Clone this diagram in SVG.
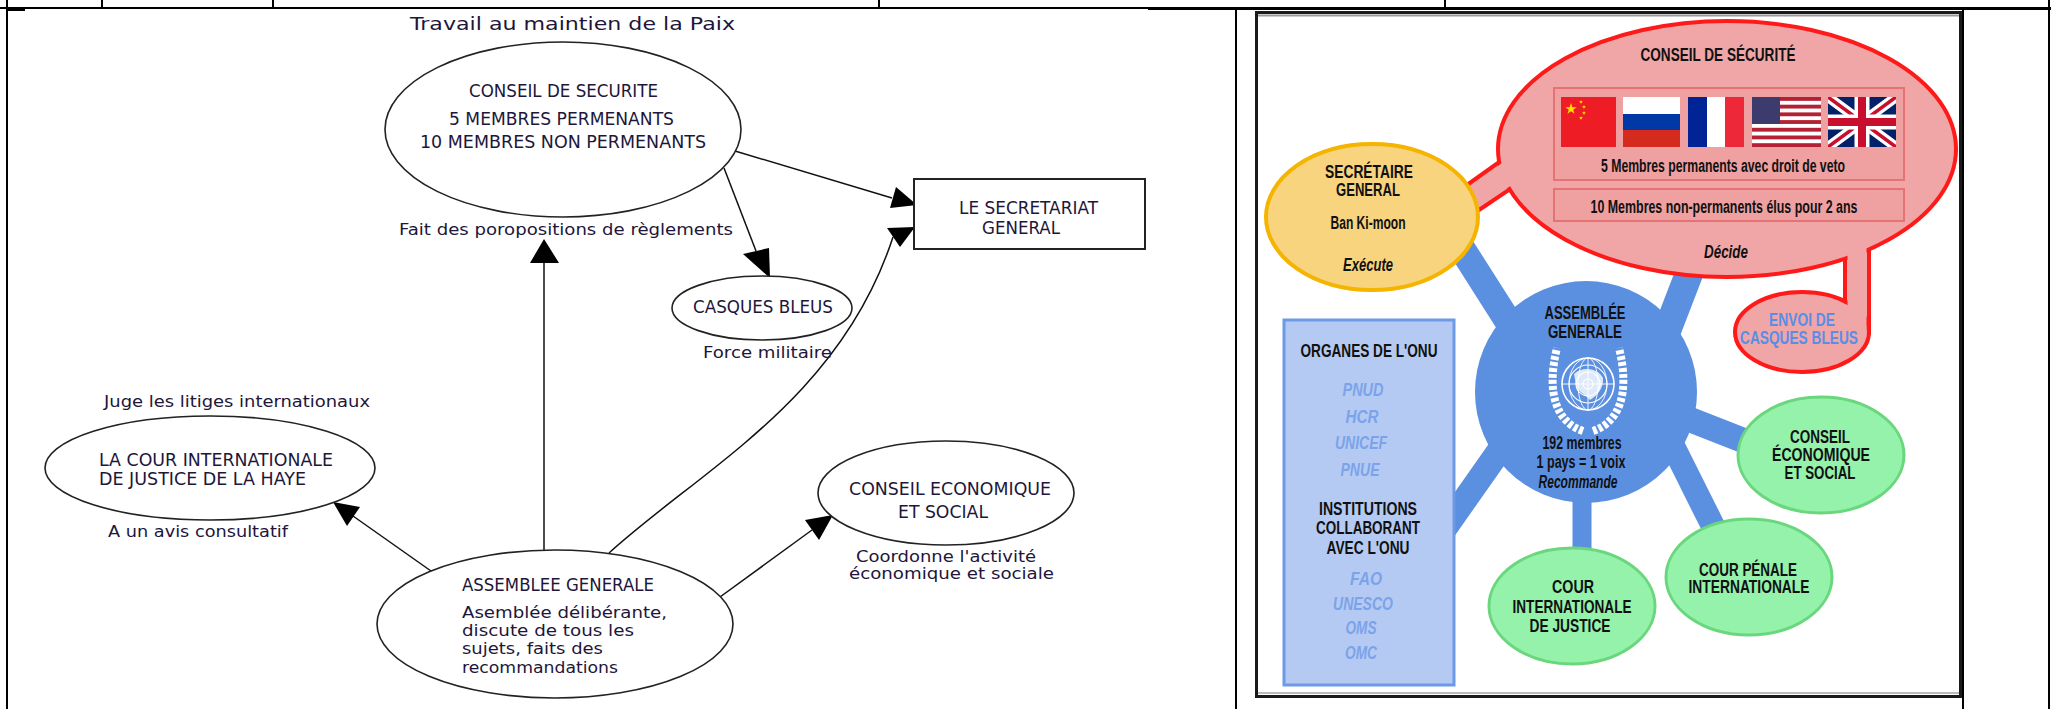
<svg xmlns="http://www.w3.org/2000/svg" xmlns:xlink="http://www.w3.org/1999/xlink" width="2051" height="709" viewBox="0 0 2051 709">
<style>
.tbl{stroke:#000;stroke-width:2;fill:none}
.lt{font-family:"DejaVu Sans","Liberation Sans",sans-serif;fill:#21163a;font-size:17px}
.ls{font-size:16px}
.nd{fill:#fff;stroke:#222;stroke-width:1.6}
.edge{stroke:#111;stroke-width:1.5;fill:none}
.ah{fill:#000}
.rt{font-family:"Liberation Sans Narrow","Liberation Sans",sans-serif;font-weight:bold;font-size:18px;fill:#111;text-anchor:middle}
.it{font-style:italic}
.lb{fill:#7ba3ea;font-style:italic}
.bl{fill:#5a8ee6}
.spoke{stroke:#5b8fe0;fill:none}
.red{fill:#f0a6a6;stroke:#ff1a1a;stroke-width:4}
.redc{fill:#f0a6a6}
.green{fill:#95f2aa;stroke:#6ad77e;stroke-width:3}
</style>
<defs>
<path id="star" d="M0,-6 L1.35,-1.86 L5.71,-1.85 L2.19,0.71 L3.53,4.85 L0,2.3 L-3.53,4.85 L-2.19,0.71 L-5.71,-1.85 L-1.35,-1.86Z" fill="#ffde00"/>
<clipPath id="ukc"><rect x="1828" y="97" width="68" height="50"/></clipPath>
</defs>
<rect width="2051" height="709" fill="#fff"/>

<!-- table lines -->
<g id="table">
<line class="tbl" x1="0" y1="8" x2="2051" y2="8"/>
<line class="tbl" x1="1148" y1="9" x2="2051" y2="9" stroke-width="3"/>
<line class="tbl" x1="102" y1="0" x2="102" y2="8"/>
<line class="tbl" x1="273" y1="0" x2="273" y2="8"/>
<line class="tbl" x1="879" y1="0" x2="879" y2="8"/>
<line class="tbl" x1="1445" y1="0" x2="1445" y2="8"/>
<line class="tbl" x1="7" y1="0" x2="7" y2="709"/>
<line class="tbl" x1="8" y1="10" x2="25" y2="10" stroke-width="3"/>
<line class="tbl" x1="1236" y1="8" x2="1236" y2="709"/>
<line class="tbl" x1="1963" y1="8" x2="1963" y2="709"/>
<line class="tbl" x1="2049" y1="0" x2="2049" y2="709"/>
</g>

<!-- LEFT DIAGRAM -->
<text class="lt" x="410" y="30" font-size="20" textLength="325" lengthAdjust="spacingAndGlyphs">Travail au maintien de la Paix</text>

<g id="connectors">
<path class="edge" d="M735,151 L892,198"/>
<polygon class="ah" points="917,205 896,187 890,208"/>
<path class="edge" d="M724,168 L756,251"/>
<polygon class="ah" points="770,278 743,254 769,248"/>
<path class="edge" d="M544,550 L544,263"/>
<polygon class="ah" points="544,239 530,263 559,263"/>
<path class="edge" d="M609,553 C700,470 840,400 893,237"/>
<polygon class="ah" points="915,227 887,228 900,247"/>
<path class="edge" d="M431,571 L353,516"/>
<polygon class="ah" points="333,502 360,507 347,526"/>
<path class="edge" d="M720,597 L812,530"/>
<polygon class="ah" points="833,515 819,540 805,520"/>
</g>

<g id="conseil-securite">
<ellipse class="nd" cx="563" cy="129.5" rx="178" ry="87.5"/>
<text class="lt" x="469" y="97" textLength="189" lengthAdjust="spacingAndGlyphs">CONSEIL DE SECURITE</text>
<text class="lt" x="449" y="125" textLength="225" lengthAdjust="spacingAndGlyphs">5 MEMBRES PERMENANTS</text>
<text class="lt" x="420" y="148" textLength="286" lengthAdjust="spacingAndGlyphs">10 MEMBRES NON PERMENANTS</text>
<text class="lt ls" x="399" y="235" textLength="334" lengthAdjust="spacingAndGlyphs">Fait des poropositions de règlements</text>
</g>

<g id="secretariat">
<rect x="914" y="179" width="231" height="70" fill="#fff" stroke="#222" stroke-width="2"/>
<text class="lt" x="959" y="214" textLength="139" lengthAdjust="spacingAndGlyphs">LE SECRETARIAT</text>
<text class="lt" x="982" y="234" textLength="78" lengthAdjust="spacingAndGlyphs">GENERAL</text>
</g>

<g id="casques-bleus">
<ellipse class="nd" cx="762" cy="308" rx="90" ry="32"/>
<text class="lt" x="693" y="313" textLength="140" lengthAdjust="spacingAndGlyphs">CASQUES BLEUS</text>
<text class="lt ls" x="703" y="358" textLength="129" lengthAdjust="spacingAndGlyphs">Force militaire</text>
</g>

<g id="cour-internationale">
<ellipse class="nd" cx="210" cy="468" rx="165" ry="52"/>
<text class="lt ls" x="104" y="407" textLength="266" lengthAdjust="spacingAndGlyphs">Juge les litiges internationaux</text>
<text class="lt" x="99" y="466" textLength="234" lengthAdjust="spacingAndGlyphs">LA COUR INTERNATIONALE</text>
<text class="lt" x="99" y="485" textLength="207" lengthAdjust="spacingAndGlyphs">DE JUSTICE DE LA HAYE</text>
<text class="lt ls" x="108" y="537" textLength="180" lengthAdjust="spacingAndGlyphs">A un avis consultatif</text>
</g>

<g id="assemblee-generale">
<ellipse class="nd" cx="555" cy="624" rx="178" ry="74"/>
<text class="lt" x="462" y="591" textLength="192" lengthAdjust="spacingAndGlyphs">ASSEMBLEE GENERALE</text>
<text class="lt ls" x="462" y="618" textLength="205" lengthAdjust="spacingAndGlyphs">Asemblée délibérante,</text>
<text class="lt ls" x="462" y="636" textLength="172" lengthAdjust="spacingAndGlyphs">discute de tous les</text>
<text class="lt ls" x="462" y="654" textLength="141" lengthAdjust="spacingAndGlyphs">sujets, faits des</text>
<text class="lt ls" x="462" y="673" textLength="156" lengthAdjust="spacingAndGlyphs">recommandations</text>
</g>

<g id="conseil-economique">
<ellipse class="nd" cx="946" cy="493" rx="128" ry="52"/>
<text class="lt" x="849" y="495" textLength="202" lengthAdjust="spacingAndGlyphs">CONSEIL ECONOMIQUE</text>
<text class="lt" x="898" y="518" textLength="90" lengthAdjust="spacingAndGlyphs">ET SOCIAL</text>
<text class="lt ls" x="856" y="562" textLength="180" lengthAdjust="spacingAndGlyphs">Coordonne l'activité</text>
<text class="lt ls" x="849" y="579" textLength="205" lengthAdjust="spacingAndGlyphs">économique et sociale</text>
</g>

<!-- RIGHT PICTURE -->
<g id="frame">
<rect x="1256.5" y="12.5" width="704" height="684" fill="#fff" stroke="#1a1a1a" stroke-width="3"/>
<line x1="1258" y1="15.5" x2="1959" y2="15.5" stroke="#999" stroke-width="2"/>
<line x1="1258" y1="693" x2="1959" y2="693" stroke="#bbb" stroke-width="2"/>
</g>

<g id="spokes">
<line class="spoke" x1="1450" y1="230" x2="1553" y2="392" stroke-width="27"/>
<line class="spoke" x1="1702" y1="240" x2="1655" y2="362" stroke-width="28"/>
<line class="spoke" x1="1440" y1="535" x2="1530" y2="407" stroke-width="25"/>
<line class="spoke" x1="1582" y1="470" x2="1582" y2="565" stroke-width="19"/>
<line class="spoke" x1="1660" y1="420" x2="1730" y2="560" stroke-width="24"/>
<line class="spoke" x1="1640" y1="400" x2="1760" y2="447" stroke-width="25"/>
</g>

<g id="assemblee-onu">
<circle cx="1586" cy="392" r="111" fill="#5b8fe0"/>
<g id="un-emblem" fill="none" stroke="#fff">
<circle cx="1588" cy="384" r="26" stroke-width="1.6"/>
<circle cx="1588" cy="384" r="19" stroke-width="1.1"/>
<circle cx="1588" cy="384" r="12" stroke-width="1.1"/>
<circle cx="1588" cy="384" r="5" stroke-width="1.1"/>
<ellipse cx="1588" cy="384" rx="10" ry="26" stroke-width="0.9"/>
<ellipse cx="1588" cy="384" rx="19" ry="26" stroke-width="0.9"/>
<path d="M1588,358 V410 M1562,384 H1614" stroke-width="0.9"/>
<path d="M1574,374 C1582,366 1598,368 1603,378 C1604,388 1597,396 1590,400 C1585,394 1578,392 1576,385 Z" fill="#fff" stroke="none" opacity="0.8"/>
<path d="M1583,431 C1556,422 1546,392 1557,348" stroke-width="8" stroke-dasharray="4 2"/>
<path d="M1593,431 C1620,422 1630,392 1619,348" stroke-width="8" stroke-dasharray="4 2"/>
</g>
<text class="rt" x="1585" y="319" textLength="81" lengthAdjust="spacingAndGlyphs">ASSEMBLÉE</text>
<text class="rt" x="1585" y="338" textLength="74" lengthAdjust="spacingAndGlyphs">GENERALE</text>
<text class="rt" x="1582" y="449" font-size="17" textLength="79" lengthAdjust="spacingAndGlyphs">192 membres</text>
<text class="rt" x="1581" y="468" font-size="17" textLength="89" lengthAdjust="spacingAndGlyphs">1 pays = 1 voix</text>
<text class="rt it" x="1578" y="488" font-size="17" textLength="79" lengthAdjust="spacingAndGlyphs">Recommande</text>
</g>

<g id="conseil-de-securite">
<polygon class="red" points="1460,190 1516,150 1528,177 1473,214"/>
<polygon class="red" points="1845,240 1869,240 1869,332 1845,320"/>
<ellipse class="red" cx="1727" cy="149" rx="229" ry="128"/>
<ellipse class="red" cx="1802" cy="332" rx="67" ry="40"/>
<polygon class="redc" points="1461.5,192 1517.5,152 1526.6,175.2 1471.6,211.9"/>
<polygon class="redc" points="1847.5,236 1866.5,236 1866.5,328 1847.5,318"/>
<rect x="1554" y="88" width="350" height="92" fill="#efa0a0" stroke="#e57373" stroke-width="2"/>
<rect x="1554" y="189" width="350" height="32" fill="#efa0a0" stroke="#e57373" stroke-width="2"/>
<g id="flags">
<rect x="1561" y="97" width="55" height="50" fill="#ee1c25"/>
<use xlink:href="#star" href="#star" transform="translate(1571,109)"/>
<use xlink:href="#star" href="#star" transform="translate(1581,102) scale(0.35)"/>
<use xlink:href="#star" href="#star" transform="translate(1584,107) scale(0.35)"/>
<use xlink:href="#star" href="#star" transform="translate(1584,113) scale(0.35)"/>
<use xlink:href="#star" href="#star" transform="translate(1581,118) scale(0.35)"/>
<rect x="1623" y="97" width="57" height="17" fill="#fff"/>
<rect x="1623" y="114" width="57" height="16" fill="#0039a6"/>
<rect x="1623" y="130" width="57" height="17" fill="#d52b1e"/>
<rect x="1688" y="97" width="19" height="50" fill="#002395"/>
<rect x="1707" y="97" width="18" height="50" fill="#fff"/>
<rect x="1725" y="97" width="19" height="50" fill="#ed2939"/>
<rect x="1752" y="97" width="69" height="50" fill="#b22234"/>
<g fill="#fff">
<rect x="1752" y="100.85" width="69" height="3.85"/>
<rect x="1752" y="108.55" width="69" height="3.85"/>
<rect x="1752" y="116.25" width="69" height="3.85"/>
<rect x="1752" y="123.95" width="69" height="3.85"/>
<rect x="1752" y="131.65" width="69" height="3.85"/>
<rect x="1752" y="139.35" width="69" height="3.85"/>
</g>
<rect x="1752" y="97" width="28" height="27" fill="#3c3b6e"/>
<g clip-path="url(#ukc)">
<rect x="1828" y="97" width="68" height="50" fill="#012169"/>
<path d="M1828,97 L1896,147 M1896,97 L1828,147" stroke="#fff" stroke-width="10"/>
<path d="M1828,97 L1896,147 M1896,97 L1828,147" stroke="#c8102e" stroke-width="3.5"/>
<path d="M1862,97 V147 M1828,122 H1896" stroke="#fff" stroke-width="15"/>
<path d="M1862,97 V147 M1828,122 H1896" stroke="#c8102e" stroke-width="8"/>
</g>
</g>
<text class="rt" x="1718" y="61" textLength="155" lengthAdjust="spacingAndGlyphs">CONSEIL DE SÉCURITÉ</text>
<text class="rt" x="1723" y="172" font-size="17" textLength="244" lengthAdjust="spacingAndGlyphs">5 Membres permanents avec droit de veto</text>
<text class="rt" x="1724" y="213" font-size="17" textLength="267" lengthAdjust="spacingAndGlyphs">10 Membres non-permanents élus pour 2 ans</text>
<text class="rt it" x="1726" y="258" textLength="44" lengthAdjust="spacingAndGlyphs">Décide</text>
<text class="rt bl" x="1802" y="326" textLength="66" lengthAdjust="spacingAndGlyphs">ENVOI DE</text>
<text class="rt bl" x="1799" y="344" textLength="118" lengthAdjust="spacingAndGlyphs">CASQUES BLEUS</text>
</g>

<g id="secretaire-general">
<ellipse cx="1372" cy="217" rx="106" ry="73" fill="#f8d47e" stroke="#f5b400" stroke-width="4"/>
<text class="rt" x="1369" y="178" textLength="88" lengthAdjust="spacingAndGlyphs">SECRÉTAIRE</text>
<text class="rt" x="1368" y="196" textLength="64" lengthAdjust="spacingAndGlyphs">GENERAL</text>
<text class="rt" x="1368" y="229" textLength="75" lengthAdjust="spacingAndGlyphs">Ban Ki-moon</text>
<text class="rt it" x="1368" y="271" textLength="50" lengthAdjust="spacingAndGlyphs">Exécute</text>
</g>

<g id="organes-onu">
<rect x="1284" y="320" width="170" height="365" fill="#b5caf2" stroke="#6d9ae6" stroke-width="3"/>
<text class="rt" x="1369" y="357" textLength="137" lengthAdjust="spacingAndGlyphs">ORGANES DE L'ONU</text>
<text class="rt lb" x="1363" y="396" textLength="41" lengthAdjust="spacingAndGlyphs">PNUD</text>
<text class="rt lb" x="1362" y="423" textLength="33" lengthAdjust="spacingAndGlyphs">HCR</text>
<text class="rt lb" x="1361" y="449" textLength="52" lengthAdjust="spacingAndGlyphs">UNICEF</text>
<text class="rt lb" x="1360" y="476" textLength="39" lengthAdjust="spacingAndGlyphs">PNUE</text>
<text class="rt" x="1368" y="515" textLength="98" lengthAdjust="spacingAndGlyphs">INSTITUTIONS</text>
<text class="rt" x="1368" y="534" textLength="104" lengthAdjust="spacingAndGlyphs">COLLABORANT</text>
<text class="rt" x="1368" y="554" textLength="83" lengthAdjust="spacingAndGlyphs">AVEC L'ONU</text>
<text class="rt lb" x="1366" y="585" textLength="32" lengthAdjust="spacingAndGlyphs">FAO</text>
<text class="rt lb" x="1363" y="610" textLength="60" lengthAdjust="spacingAndGlyphs">UNESCO</text>
<text class="rt lb" x="1361" y="634" textLength="31" lengthAdjust="spacingAndGlyphs">OMS</text>
<text class="rt lb" x="1361" y="659" textLength="32" lengthAdjust="spacingAndGlyphs">OMC</text>
</g>

<g id="ecosoc">
<ellipse class="green" cx="1821" cy="455" rx="83" ry="58"/>
<text class="rt" x="1820" y="443" textLength="60" lengthAdjust="spacingAndGlyphs">CONSEIL</text>
<text class="rt" x="1821" y="461" textLength="98" lengthAdjust="spacingAndGlyphs">ÉCONOMIQUE</text>
<text class="rt" x="1820" y="479" textLength="71" lengthAdjust="spacingAndGlyphs">ET SOCIAL</text>
</g>

<g id="cour-penale">
<ellipse class="green" cx="1749" cy="577" rx="83" ry="58"/>
<text class="rt" x="1748" y="576" textLength="98" lengthAdjust="spacingAndGlyphs">COUR PÉNALE</text>
<text class="rt" x="1749" y="593" textLength="121" lengthAdjust="spacingAndGlyphs">INTERNATIONALE</text>
</g>

<g id="cour-justice">
<ellipse class="green" cx="1572" cy="606" rx="83" ry="58"/>
<text class="rt" x="1573" y="593" textLength="42" lengthAdjust="spacingAndGlyphs">COUR</text>
<text class="rt" x="1572" y="613" textLength="119" lengthAdjust="spacingAndGlyphs">INTERNATIONALE</text>
<text class="rt" x="1570" y="632" textLength="81" lengthAdjust="spacingAndGlyphs">DE JUSTICE</text>
</g>
</svg>
